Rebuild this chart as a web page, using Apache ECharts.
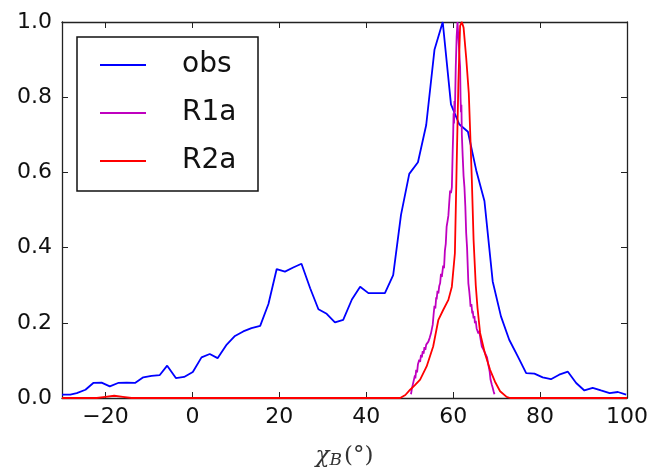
<!DOCTYPE html>
<html>
<head>
<meta charset="utf-8">
<script src="https://cdn.jsdelivr.net/npm/echarts@6/dist/echarts.min.js"></script>
<style>html,body{margin:0;padding:0;background:#fff;}#chart{width:667px;height:471px;}</style>
</head>
<body>
<div id="chart"></div>
<script>
// ---- data ----
const xTicks = [-20, 0, 20, 40, 60, 80, 100];
const yTicks = [0, 0.2, 0.4, 0.6, 0.8, 1.0];
const seriesNames = ['obs', 'R1a', 'R2a'];

const obsX = [-30,-28.1,-26.6,-24.6,-22.8,-20.9,-19.0,-17.1,-15.1,-13.2,-11.3,-9.4,-7.5,-5.8,-3.8,-1.9,0.1,2.1,4.0,5.8,7.9,9.8,11.7,13.6,15.6,17.5,19.4,21.3,23.2,25.1,27.1,29.0,30.9,32.8,34.7,36.7,38.6,40.5,42.4,44.3,46.2,48.0,49.9,51.9,53.8,55.7,57.6,59.5,61.4,63.4,65.3,67.2,69.1,71.0,72.9,74.9,76.8,78.7,80.6,82.5,84.4,86.4,88.3,90.2,92.1,94.0,96.0,97.9,99.8];
const obsY = [0.009,0.009,0.013,0.022,0.040,0.041,0.031,0.040,0.041,0.040,0.055,0.059,0.061,0.086,0.053,0.056,0.069,0.108,0.117,0.106,0.142,0.165,0.177,0.186,0.192,0.250,0.343,0.336,0.347,0.357,0.292,0.236,0.224,0.201,0.208,0.262,0.296,0.279,0.279,0.279,0.327,0.487,0.596,0.627,0.726,0.926,1.000,0.781,0.728,0.708,0.606,0.524,0.310,0.217,0.155,0.110,0.066,0.065,0.055,0.050,0.062,0.070,0.040,0.020,0.027,0.020,0.013,0.016,0.009];

const r1aX = [50.3,50.5,50.7,50.9,51.0,51.2,51.3,51.5,51.7,51.9,52.0,52.2,52.4,52.6,52.8,53.0,53.2,53.4,53.6,53.8,54.0,54.3,54.6,54.9,55.1,55.3,55.5,55.7,55.9,56.1,56.2,56.4,56.6,56.8,57.0,57.2,57.4,57.7,57.9,58.1,58.3,58.5,58.7,58.9,59.1,59.3,59.5,59.7,59.8,59.9,60.0,60.1,60.2,60.3,60.4,60.6,60.8,61.0,61.3,61.5,61.6,61.7,61.8,61.9,62.0,62.2,62.4,62.6,62.8,63.0,63.2,63.5,63.7,63.9,64.0,64.2,64.4,64.5,64.7,64.9,65.0,65.2,65.4,65.6,65.8,66.0,66.2,66.4,66.6,66.8,67.0,67.2,67.4,67.6,67.8,68.1,68.4,68.6,68.9,69.1,69.3,69.5];
const r1aY = [0.010,0.025,0.020,0.045,0.040,0.060,0.052,0.075,0.068,0.090,0.085,0.102,0.096,0.115,0.108,0.125,0.118,0.135,0.128,0.142,0.137,0.150,0.160,0.172,0.168,0.195,0.222,0.245,0.238,0.268,0.262,0.285,0.278,0.298,0.305,0.330,0.322,0.352,0.345,0.392,0.410,0.456,0.470,0.485,0.520,0.552,0.545,0.560,0.610,0.660,0.700,0.757,0.730,0.790,0.760,0.880,0.960,1.000,1.000,0.900,0.880,0.800,0.760,0.780,0.700,0.642,0.590,0.560,0.510,0.438,0.400,0.305,0.285,0.260,0.243,0.250,0.225,0.232,0.212,0.218,0.199,0.205,0.185,0.190,0.172,0.178,0.164,0.150,0.137,0.142,0.128,0.132,0.118,0.122,0.108,0.088,0.070,0.049,0.035,0.027,0.018,0.010];

const r2aX = [-30,-22,-20,-18,-16,-14,47.8,49.0,50.1,51.2,52.4,53.9,55.4,56.6,57.7,58.9,59.7,60.4,60.8,61.2,61.6,62.0,62.4,63.0,63.6,64.0,64.3,64.7,65.2,65.6,66.2,67.3,68.5,69.6,70.8,72.3,73.1,100];
const r2aY = [0,0,0.003,0.006,0.003,0,0,0.008,0.022,0.034,0.049,0.084,0.137,0.208,0.234,0.261,0.296,0.385,0.615,0.836,0.990,1.000,0.985,0.905,0.810,0.680,0.580,0.420,0.300,0.240,0.173,0.119,0.075,0.044,0.018,0.003,0,0];

const pairs = (xs, ys) => xs.map((x, i) => [x, ys[i]]);

// ---- chart ----
const chart = echarts.init(document.getElementById('chart'), null, {renderer: 'canvas'});
const axisCol = '#222';
const tickFont = {fontFamily: 'DejaVu Sans', fontSize: 22, color: '#111'};
const minus = v => String(v).replace('-', '\u2212');
const lineIcon = 'path://M0,0H46V1.8H0Z';

chart.setOption({
  animation: false,
  backgroundColor: '#fff',
  grid: {left: 62, right: 40, top: 22, bottom: 73, containLabel: false, outerBoundsMode: 'none'},
  legend: {
    orient: 'vertical',
    left: 77, top: 37,
    padding: [12, 16, 14, 23],
    itemWidth: 46, itemHeight: 14, itemGap: 16,
    icon: lineIcon,
    symbolKeepAspect: true,
    borderColor: '#111', borderWidth: 1.5, borderRadius: 0,
    backgroundColor: '#fff',
    textStyle: {fontFamily: 'DejaVu Sans', fontSize: 28, color: '#111', lineHeight: 32, padding: [0, 0, 0, 31], width: 60},
    data: seriesNames
  },
  xAxis: [{
    type: 'value', min: -30, max: 100, position: 'bottom',
    name: '{i|\u03c7}{s|B}{n|(\u00b0)}',
    nameLocation: 'middle', nameGap: 46,
    nameTextStyle: {
      rich: {
        i: {fontFamily: 'DejaVu Serif', fontStyle: 'italic', fontSize: 23, color: '#333'},
        s: {fontFamily: 'DejaVu Serif', fontStyle: 'italic', fontSize: 17, color: '#333', padding: [8, 2, 0, 0]},
        n: {fontFamily: 'DejaVu Serif', fontSize: 23, color: '#333'}
      }
    },
    axisLine: {show: true, onZero: false, lineStyle: {color: axisCol, width: 1.3}},
    axisTick: {show: true, inside: true, length: 6, customValues: xTicks, lineStyle: {color: axisCol, width: 1}},
    axisLabel: {show: true, margin: 8, customValues: xTicks, formatter: minus, ...tickFont},
    splitLine: {show: false}
  }, {
    type: 'value', min: -30, max: 100, position: 'top',
    axisLine: {show: true, onZero: false, lineStyle: {color: axisCol, width: 1.3}},
    axisTick: {show: true, inside: true, length: 6, customValues: xTicks, lineStyle: {color: axisCol, width: 1}},
    axisLabel: {show: false},
    splitLine: {show: false}
  }],
  yAxis: [{
    type: 'value', min: 0, max: 1, interval: 0.2, position: 'left',
    axisLine: {show: true, onZero: false, lineStyle: {color: axisCol, width: 1.3}},
    axisTick: {show: true, inside: true, length: 6, lineStyle: {color: axisCol, width: 1}},
    axisLabel: {show: true, margin: 10, formatter: v => v.toFixed(1), ...tickFont},
    splitLine: {show: false}
  }, {
    type: 'value', min: 0, max: 1, interval: 0.2, position: 'right',
    axisLine: {show: true, onZero: false, lineStyle: {color: axisCol, width: 1.3}},
    axisTick: {show: true, inside: true, length: 6, lineStyle: {color: axisCol, width: 1}},
    axisLabel: {show: false},
    splitLine: {show: false}
  }],
  series: [
    {name: 'obs', type: 'line', data: pairs(obsX, obsY), symbol: 'none', showSymbol: false, color: '#0000ff', lineStyle: {color: '#0000ff', width: 1.8}, z: 2},
    {name: 'R1a', type: 'line', data: pairs(r1aX, r1aY), symbol: 'none', showSymbol: false, color: '#bf00bf', lineStyle: {color: '#bf00bf', width: 1.8}, z: 3},
    {name: 'R2a', type: 'line', data: pairs(r2aX, r2aY), symbol: 'none', showSymbol: false, color: '#ff0000', lineStyle: {color: '#ff0000', width: 1.8}, z: 4}
  ]
});
</script>
</body>
</html>
